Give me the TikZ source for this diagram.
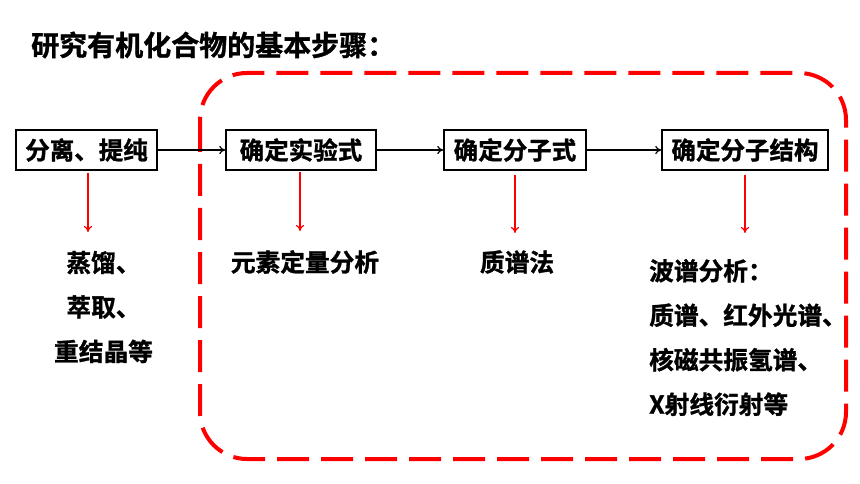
\documentclass[tikz,border=0pt]{standalone}
\usepackage{fontspec}
\newfontfamily\cjkb[FakeBold=1.2]{Noto Sans CJK SC Bold}
\usetikzlibrary{arrows.meta}
\begin{document}
\begin{tikzpicture}[x=1pt,y=-1pt,
  stepbox/.style={draw=black,line width=1.5pt,inner sep=0pt,minimum height=40pt,
    font=\cjkb\fontsize{24.5}{28}\selectfont},
  flow/.style={draw=black,line width=1.2pt,-{To[length=6pt,width=8pt]}},
  sub/.style={draw=red,line width=1.2pt,-{To[length=6pt,width=8pt]}},
  lbl/.style={inner sep=0pt,font=\cjkb\fontsize{24.7}{44.5}\selectfont}]
\useasboundingbox (0,0) rectangle (860,484);
\node[inner sep=0pt,anchor=west,font=\cjkb\fontsize{28}{32}\selectfont] (title) at (31,45) {研究有机化合物的基本步骤：};
\draw[red,line width=4pt,dash pattern=on 32pt off 12pt,rounded corners=47pt]
  (200,73) rectangle (846,459);
\node[stepbox,minimum width=141pt] (b1) at (86.5,150) {分离、提纯};
\node[stepbox,minimum width=150pt] (b2) at (301,150) {确定实验式};
\node[stepbox,minimum width=142pt] (b3) at (515,150) {确定分子式};
\node[stepbox,minimum width=166pt] (b4) at (745,150) {确定分子结构};
\draw[flow] (b1) -- (b2);
\draw[flow] (b2) -- (b3);
\draw[flow] (b3) -- (b4);
\coordinate (e1) at (88,232);
\coordinate (e2) at (300,231);
\coordinate (e3) at (515,233);
\coordinate (e4) at (745,233);
\draw[sub] (b1.south -| e1) ++(0,2) -- (e1);
\draw[sub] (b2.south -| e2) ++(0,1) -- (e2);
\draw[sub] (b3.south -| e3) ++(0,4) -- (e3);
\draw[sub] (b4.south -| e4) ++(0,4) -- (e4);
\node[lbl,align=center] (t1) at (103.5,307) {蒸馏、\\萃取、\\重结晶等};
\node[lbl] (t2) at (305,262) {元素定量分析};
\node[lbl] (t3) at (517,262) {质谱法};
\node[lbl,align=left,anchor=west] (t4) at (649,337.5) {波谱分析：\\质谱、红外光谱、\\核磁共振氢谱、\\X射线衍射等};
\end{tikzpicture}
\end{document}
